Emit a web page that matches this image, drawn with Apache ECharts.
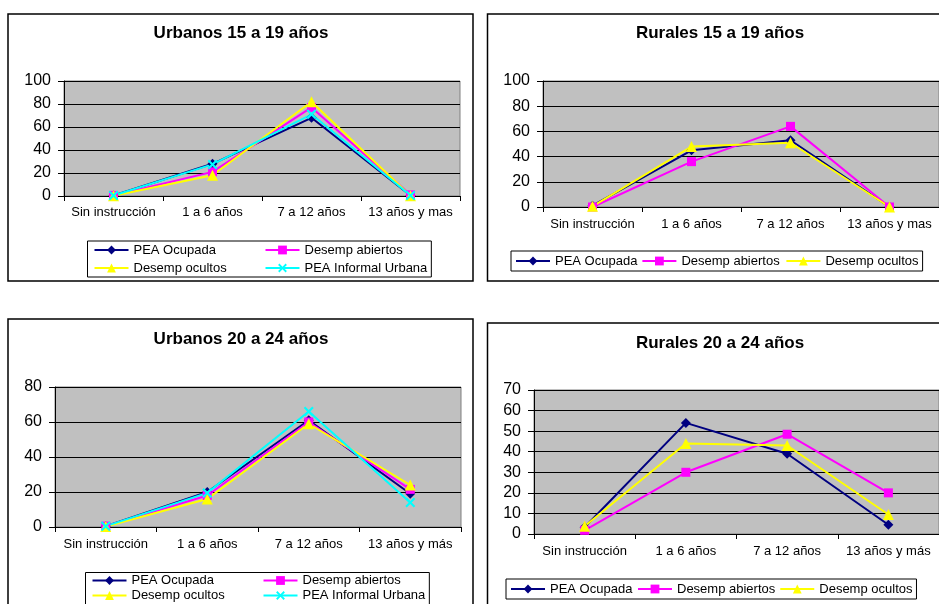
<!DOCTYPE html>
<html>
<head>
<meta charset="utf-8">
<script src="https://cdn.jsdelivr.net/npm/echarts@6/dist/echarts.min.js"></script>
<style>html,body{margin:0;padding:0;background:#fff}#c{width:939px;height:604px}</style>
</head>
<body>
<div id="c"></div>
<script>
// ---- Data ----
const categories1519 = ['Sin instrucción', '1 a 6 años', '7 a 12 años', '13 años y mas'];
const categories2024 = ['Sin instrucción', '1 a 6 años', '7 a 12 años', '13 años y más'];

const seriesNames = ['PEA Ocupada', 'Desemp abiertos', 'Desemp ocultos', 'PEA Informal Urbana'];

// Urbanos 15 a 19 años
const urb1519Ocupada  = [0.5, 28, 68, 0.5];
const urb1519Abiertos = [0.5, 21, 77, 1];
const urb1519Ocultos  = [0.3, 18, 82, 0.3];
const urb1519Informal = [0.5, 27.5, 71, 0.5];

// Rurales 15 a 19 años
const rur1519Ocupada  = [1, 45, 53, 0];
const rur1519Abiertos = [0, 36, 64, 0];
const rur1519Ocultos  = [0.5, 48, 51, 0];

// Urbanos 20 a 24 años
const urb2024Ocupada  = [0.5, 20, 61, 19];
const urb2024Abiertos = [0.5, 18, 60, 21.5];
const urb2024Ocultos  = [0.3, 16, 59, 24];
const urb2024Informal = [0.5, 19.5, 66, 14];

// Rurales 20 a 24 años
const rur2024Ocupada  = [3.3, 54, 39, 4.5];
const rur2024Abiertos = [1.8, 30, 48.5, 20];
const rur2024Ocultos  = [3.8, 44, 43, 9.5];

const titles = ['Urbanos 15 a 19 años', 'Rurales 15 a 19 años', 'Urbanos 20 a 24 años', 'Rurales 20 a 24 años'];
const yTicks1 = [0, 20, 40, 60, 80, 100];
const yTicks2 = [0, 20, 40, 60, 80, 100];
const yTicks3 = [0, 20, 40, 60, 80];
const yTicks4 = [0, 10, 20, 30, 40, 50, 60, 70];

// ---- Styles ----
const FONT = '"Liberation Sans", Arial, sans-serif';
const XPATH = 'path://M0,1.5L1.5,0L5,3.5L8.5,0L10,1.5L6.5,5L10,8.5L8.5,10L5,6.5L1.5,10L0,8.5L3.5,5Z';
const seriesStyle = {
  'PEA Ocupada': {color: '#000080', symbol: 'diamond', size: 10},
  'Desemp abiertos': {color: '#FF00FF', symbol: 'rect', size: 9},
  'Desemp ocultos': {color: '#FFFF00', symbol: 'triangle', size: 11},
  'PEA Informal Urbana': {color: '#00FFFF', symbol: XPATH, size: 10}
};

const panels = [
  {cats: categories1519, ticks: yTicks1, data: [urb1519Ocupada, urb1519Abiertos, urb1519Ocultos, urb1519Informal],
   grid: {left: 64, top: 81, width: 396, height: 115}, title: {x: 241, y: 24.5}, frame: [8, 14, 465, 267], xMargin: 10},
  {cats: categories1519, ticks: yTicks2, data: [rur1519Ocupada, rur1519Abiertos, rur1519Ocultos],
   grid: {left: 543, top: 81, width: 396, height: 126}, title: {x: 720, y: 24.5}, frame: [487.5, 14, 470, 267], xMargin: 11},
  {cats: categories2024, ticks: yTicks3, data: [urb2024Ocupada, urb2024Abiertos, urb2024Ocultos, urb2024Informal],
   grid: {left: 55, top: 387, width: 406, height: 140}, title: {x: 241, y: 330.5}, frame: [8, 319, 465, 300], xMargin: 11},
  {cats: categories2024, ticks: yTicks4, data: [rur2024Ocupada, rur2024Abiertos, rur2024Ocultos],
   grid: {left: 534, top: 390, width: 408, height: 144}, title: {x: 720, y: 334.5}, frame: [487.5, 323, 470, 300], xMargin: 11}
];

const option = {
  animation: false,
  backgroundColor: '#fff',
  textStyle: {fontFamily: FONT},
  title: [], grid: [], xAxis: [], yAxis: [], series: [], legend: [],
  graphic: []
};

panels.forEach((p, i) => {
  option.graphic.push({type: 'rect', silent: true, z: -10,
    shape: {x: p.frame[0], y: p.frame[1], width: p.frame[2], height: p.frame[3]},
    style: {fill: '#fff', stroke: '#000', lineWidth: 1.5}});
  option.title.push({text: titles[i], left: p.title.x, top: p.title.y, textAlign: 'center', padding: 0,
    textStyle: {fontFamily: FONT, fontSize: 17, fontWeight: 'bold', color: '#000'}});
  option.grid.push(Object.assign({show: true, backgroundColor: '#C0C0C0', borderColor: '#808080', borderWidth: 1}, p.grid));
  option.xAxis.push({type: 'category', gridIndex: i, data: p.cats, boundaryGap: true,
    axisLine: {lineStyle: {color: '#000', width: 1}},
    axisTick: {show: true, inside: false, length: 5, alignWithLabel: false, lineStyle: {color: '#000'}},
    axisLabel: {color: '#000', fontSize: 13, fontFamily: FONT, margin: p.xMargin, interval: 0},
    splitLine: {show: false}});
  const tk = p.ticks;
  option.yAxis.push({type: 'value', gridIndex: i, min: tk[0], max: tk[tk.length - 1], interval: tk[1] - tk[0],
    axisLine: {show: true, lineStyle: {color: '#000', width: 1}},
    axisTick: {show: true, inside: false, length: 6, lineStyle: {color: '#000'}},
    axisLabel: {color: '#000', fontSize: 16, fontFamily: FONT, margin: 13},
    splitLine: {show: true, lineStyle: {color: '#000', width: 1}}});
  p.data.forEach((vals, k) => {
    const name = seriesNames[k];
    const st = seriesStyle[name];
    option.series.push({type: 'line', name: name, xAxisIndex: i, yAxisIndex: i, data: vals,
      symbol: st.symbol, symbolSize: st.size, showSymbol: true,
      lineStyle: {color: st.color, width: 2}, itemStyle: {color: st.color, borderWidth: 0},
      emphasis: {disabled: true}});
  });
});

const legendCommon = {itemWidth: 34, itemHeight: 11, borderColor: '#000', borderWidth: 1, backgroundColor: '#fff',
  textStyle: {fontFamily: FONT, fontSize: 13, color: '#000', lineHeight: 14}, selectedMode: false, orient: 'horizontal'};

// Legend panel 1 (2x2)
option.legend.push(Object.assign({}, legendCommon, {
  left: 87.5, top: 241, itemGap: 4, padding: [2, 4, 2, 6], width: 340,
  data: [
    {name: 'PEA Ocupada', textStyle: {width: 127}},
    {name: 'Desemp abiertos'},
    {name: 'Desemp ocultos', textStyle: {width: 127}},
    {name: 'PEA Informal Urbana'}
  ]}));
// Legend panel 2 (1 row)
option.legend.push(Object.assign({}, legendCommon, {
  left: 511, top: 251, itemGap: 4, padding: [3, 4, 3, 4],
  data: [
    {name: 'PEA Ocupada', textStyle: {width: 81}},
    {name: 'Desemp abiertos', textStyle: {width: 100}},
    {name: 'Desemp ocultos'}
  ]}));
// Legend panel 3 (2x2)
option.legend.push(Object.assign({}, legendCommon, {
  left: 85.5, top: 572.5, itemGap: 1, padding: [1, 4, 2, 6], width: 340,
  data: [
    {name: 'PEA Ocupada', textStyle: {width: 130}},
    {name: 'Desemp abiertos'},
    {name: 'Desemp ocultos', textStyle: {width: 130}},
    {name: 'PEA Informal Urbana'}
  ]}));
// Legend panel 4 (1 row)
option.legend.push(Object.assign({}, legendCommon, {
  left: 506, top: 579, itemGap: 4, padding: [3, 4, 3, 4],
  data: [
    {name: 'PEA Ocupada', textStyle: {width: 83}},
    {name: 'Desemp abiertos', textStyle: {width: 98}},
    {name: 'Desemp ocultos'}
  ]}));

const chart = echarts.init(document.getElementById('c'), null, {renderer: 'canvas'});
chart.setOption(option);
</script>
</body>
</html>
